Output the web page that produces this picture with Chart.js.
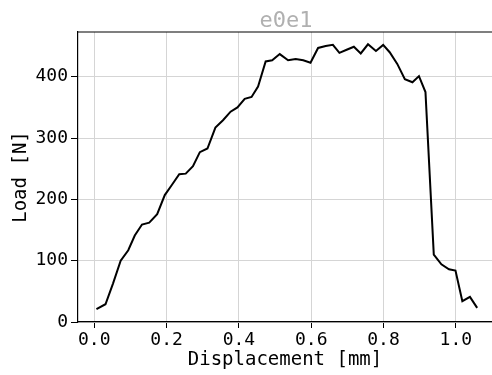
<!DOCTYPE html>
<html>
<head>
<meta charset="utf-8">
<script src="https://cdn.jsdelivr.net/npm/chart.js@4"></script>
<style>
html,body{margin:0;padding:0;background:#fff;}
#wrap{width:492px;height:375px;}
</style>
</head>
<body>
<div id="wrap"><canvas id="loadChart"></canvas></div>
<script>
// e0e1 load vs displacement

const displacement = [0.006,0.031,0.052,0.073,0.094,0.112,0.132,0.152,0.174,0.195,0.214,0.235,0.253,0.273,0.292,0.313,0.335,0.356,0.377,0.396,0.416,0.435,0.453,0.474,0.492,0.513,0.536,0.557,0.578,0.598,0.619,0.640,0.660,0.678,0.698,0.718,0.737,0.757,0.779,0.799,0.817,0.838,0.859,0.880,0.898,0.916,0.939,0.960,0.981,0.999,1.018,1.039,1.059];
const load = [21,29,63,100,117,141,159,162,176,207,223,241,242,254,277,283,317,329,343,350,364,367,384,425,427,437,427,429,427,423,447,450,452,439,444,449,438,453,442,452,440,421,396,391,401,375,110,94,86,84,34,41,23];
const xTicks = [0.0,0.2,0.4,0.6,0.8,1.0];
const yTicks = [0,100,200,300,400];

const mono = "'DejaVu Sans Mono', monospace";

const points = displacement.map((d,i)=>({x:d,y:load[i]}));

// title over the plot area + top spine
const framePlugin = {
id:"frame",
afterDraw(chart){
const ctx = chart.ctx, a = chart.chartArea;
ctx.save();
ctx.strokeStyle = "#000";
ctx.lineWidth = 1.2;
ctx.beginPath();
ctx.moveTo(a.left, a.top);
ctx.lineTo(a.right, a.top);
ctx.stroke();
ctx.font = "22px " + mono;
ctx.fillStyle = "#b0b0b0";
ctx.textAlign = "center";
ctx.textBaseline = "alphabetic";
ctx.fillText("e0e1", (a.left+a.right)/2 + 1, a.top-5);
ctx.restore();
}
};

new Chart(
document.getElementById("loadChart"),
{
type:"scatter",
data:{
datasets:[{
label:"e0e1",
data:points,
showLine:true,
borderColor:"#000",
borderWidth:2,
pointRadius:0,
tension:0
}]
},
options:{
responsive:true,
maintainAspectRatio:false,
animation:false,
layout:{padding:{top:32,right:0,bottom:0,left:0}},
plugins:{legend:{display:false},tooltip:{enabled:false}},
scales:{
x:{
type:"linear",
min:-0.045,
max:1.10,
afterBuildTicks(s){ s.ticks = xTicks.map(v=>({value:v})); },
afterFit(s){ s.height = 53; },
ticks:{
font:{family:mono,size:18},
color:"#000",
padding:2,
callback:v=>v.toFixed(1)
},
grid:{color:"#d5d5d5",tickColor:"#000",tickLength:6,lineWidth:1},
border:{color:"#000",width:1.2},
title:{display:true,text:"Displacement [mm]",font:{family:mono,size:19},color:"#000",padding:{top:0,bottom:4}}
},
y:{
min:0,
max:473,
afterBuildTicks(s){ s.ticks = yTicks.map(v=>({value:v})); },
afterFit(s){ s.width = 78; },
ticks:{
font:{family:mono,size:18},
color:"#000",
padding:3
},
grid:{color:"#d5d5d5",tickColor:"#000",tickLength:7,lineWidth:1},
border:{color:"#000",width:1.2},
title:{display:true,text:"Load [N]",font:{family:mono,size:19},color:"#000",padding:{top:10,bottom:0}}
}
}
},
plugins:[framePlugin]
}
);
</script>
</body>
</html>
